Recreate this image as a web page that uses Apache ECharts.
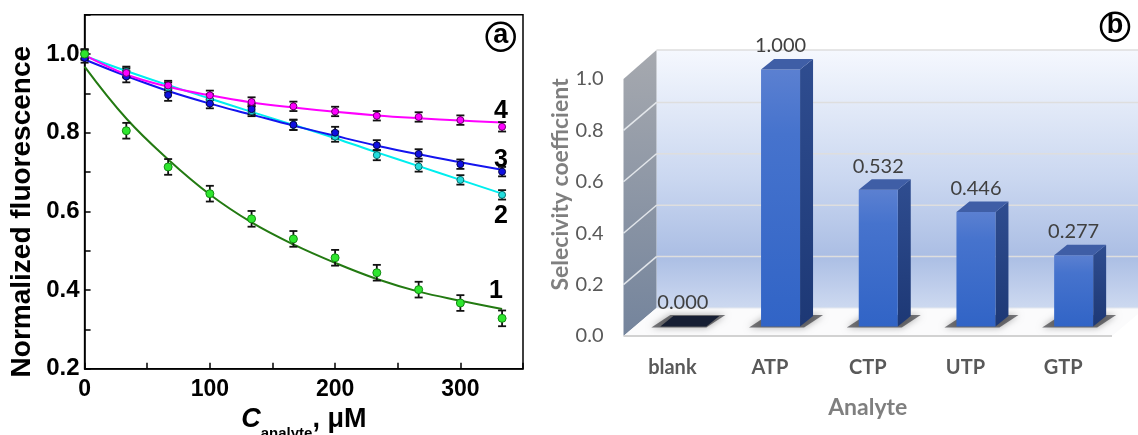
<!DOCTYPE html>
<html><head><meta charset="utf-8">
<script src="https://cdn.jsdelivr.net/npm/echarts@6/dist/echarts.min.js"></script>
<style>html,body{margin:0;padding:0;background:#fff}#c{width:1138px;height:435px}</style>
</head><body><div id="c"></div>
<script>
// ---------- Panel a data ----------
const concentrations = [0, 33.3, 66.7, 100, 133.3, 166.7, 200, 233.3, 266.7, 300, 333.3];
const curve1Points = [1.000, 0.805, 0.713, 0.645, 0.581, 0.530, 0.482, 0.444, 0.401, 0.367, 0.328];
const curve1Fit    = [0.968, 0.836, 0.732, 0.643, 0.572, 0.516, 0.469, 0.428, 0.396, 0.373, 0.352];
const curve1Err    = [0.012, 0.020, 0.020, 0.020, 0.020, 0.020, 0.020, 0.020, 0.020, 0.020, 0.020];
const curve2Points = [0.997, 0.955, 0.915, 0.885, 0.855, 0.820, 0.790, 0.743, 0.714, 0.680, 0.642];
const curve2Fit    = [0.995, 0.957, 0.921, 0.887, 0.853, 0.820, 0.786, 0.750, 0.715, 0.680, 0.645];
const curve2Err    = [0.012, 0.013, 0.013, 0.013, 0.013, 0.013, 0.013, 0.013, 0.013, 0.012, 0.012];
const curve3Points = [0.990, 0.943, 0.896, 0.874, 0.860, 0.820, 0.800, 0.768, 0.746, 0.720, 0.701];
const curve3Fit    = [0.986, 0.944, 0.906, 0.874, 0.846, 0.818, 0.792, 0.767, 0.745, 0.725, 0.706];
const curve3Err    = [0.012, 0.015, 0.015, 0.012, 0.013, 0.013, 0.015, 0.013, 0.012, 0.012, 0.012];
const curve4Points = [1.000, 0.952, 0.920, 0.895, 0.878, 0.867, 0.854, 0.843, 0.840, 0.832, 0.815];
const curve4Fit    = [0.997, 0.948, 0.917, 0.895, 0.877, 0.864, 0.853, 0.844, 0.837, 0.831, 0.826];
const curve4Err    = [0.012, 0.012, 0.012, 0.012, 0.012, 0.012, 0.012, 0.012, 0.012, 0.012, 0.012];
const curveNames = ['1', '2', '3', '4'];

// ---------- Panel b data ----------
const analytes = ['blank', 'ATP', 'CTP', 'UTP', 'GTP'];
const selectivity = [0.000, 1.000, 0.532, 0.446, 0.277];

const chart = echarts.init(document.getElementById('c'));

const pts = ys => concentrations.map((x, i) => [x, ys[i]]);

function errSeries(ys, errs) {
  return {
    type: 'custom', xAxisIndex: 0, yAxisIndex: 0, z: 3, silent: true,
    data: concentrations.map((x, i) => [x, ys[i], errs[i]]),
    renderItem(params, api) {
      const x = api.value(0), y = api.value(1), e = api.value(2);
      const lo = api.coord([x, y - e]), hi = api.coord([x, y + e]);
      const cw = 4;
      const st = { stroke: '#111', lineWidth: 1.8 };
      return { type: 'group', children: [
        { type: 'line', shape: { x1: lo[0], y1: lo[1], x2: hi[0], y2: hi[1] }, style: st },
        { type: 'line', shape: { x1: lo[0] - cw, y1: lo[1], x2: lo[0] + cw, y2: lo[1] }, style: st },
        { type: 'line', shape: { x1: hi[0] - cw, y1: hi[1], x2: hi[0] + cw, y2: hi[1] }, style: st }
      ]};
    }
  };
}
function fitSeries(name, ys, color) {
  return { type: 'line', name, xAxisIndex: 0, yAxisIndex: 0, data: pts(ys), smooth: 0.4,
    showSymbol: false, z: 2, lineStyle: { color, width: 2 } };
}
function pointSeries(name, ys, color, border, size) {
  return { type: 'scatter', name, xAxisIndex: 0, yAxisIndex: 0, data: pts(ys), z: 4,
    symbolSize: size, itemStyle: { color, borderColor: border, borderWidth: 1, opacity: 1 } };
}

// ---------- Panel b custom renderers ----------
const DEPTH = [33, -28];      // back wall offset
const BAR_SHIFT = [10.5, -9.5]; // bar front plane offset
const BAR_DEPTH = [13, -10.5];
const BAR_W = 39;

function renderRoom(params, api) {
  const cs = params.coordSys;
  const x0 = cs.x, x1 = cs.x + cs.width;
  const yAt = v => api.coord([0, v])[1];
  const y0 = yAt(0), yTop = yAt(1);
  const [dx, dy] = DEPTH;
  const ch = [];
  ch.push({ type: 'polygon', shape: { points: [[x0 + dx, yTop + dy - 1], [x1 + 80, yTop + dy - 1], [x1 + 80, y0 + dy], [x0 + dx, y0 + dy]] },
    style: { fill: { type: 'linear', x: 0, y: 0, x2: 0, y2: 1, colorStops: [
      { offset: 0, color: '#f5f8fe' }, { offset: 0.5, color: '#cad7f0' },
      { offset: 0.8, color: '#abbee4' }, { offset: 1, color: '#cdd9f0' }] } } });
  ch.push({ type: 'polygon', shape: { points: [[x0, yTop], [x0 + dx, yTop + dy - 1], [x0 + dx, y0 + dy], [x0, y0]] },
    style: { fill: { type: 'linear', x: 0, y: 0, x2: 0, y2: 1, colorStops: [
      { offset: 0, color: '#a6a9af' }, { offset: 1, color: '#74849c' }] } } });
  ch.push({ type: 'polygon', shape: { points: [[x0, y0], [x1, y0], [x1 + dx, y0 + dy], [x0 + dx, y0 + dy]] },
    style: { fill: '#fbfbfc' } });
  for (let k = 1; k <= 5; k++) {
    const v = k * 0.2, y = yAt(v);
    ch.push({ type: 'line', shape: { x1: x0 + dx, y1: y + dy - (k === 5 ? 1 : 0), x2: x1 + 80, y2: y + dy - (k === 5 ? 1 : 0) },
      style: { stroke: '#dedede', lineWidth: 1.5 } });
    if (k < 5) ch.push({ type: 'line', shape: { x1: x0, y1: y, x2: x0 + dx, y2: y + dy },
      style: { stroke: 'rgba(235,238,242,0.9)', lineWidth: 1.5 } });
  }
  ch.push({ type: 'line', shape: { x1: x0 + dx, y1: y0 + dy, x2: x1 + 80, y2: y0 + dy }, style: { stroke: '#e4e8ef', lineWidth: 1 } });
  ch.push({ type: 'line', shape: { x1: x0, y1: y0, x2: x1, y2: y0 }, style: { stroke: '#d2d2d2', lineWidth: 2 } });
  return { type: 'group', children: ch };
}

function renderBar(params, api) {
  const i = api.value(0), v = api.value(1);
  const base = api.coord([i, 0]), top = api.coord([i, v]);
  const cx = base[0] + BAR_SHIFT[0];
  const by = base[1] + BAR_SHIFT[1];
  const ty = top[1] + BAR_SHIFT[1];
  const l = cx - BAR_W / 2, r = cx + BAR_W / 2;
  const [ddx, ddy] = BAR_DEPTH;
  const ch = [];
  ch.push({ type: 'polygon', shape: { points: [[l - 12, by + 1], [r + 4, by + 1], [r + ddx + 10, by + ddy - 1], [l + ddx - 6, by + ddy - 1]] },
    style: { fill: 'rgba(20,20,25,0.55)', shadowBlur: 7, shadowColor: 'rgba(0,0,0,0.6)' } });
  if (v > 0) {
    ch.push({ type: 'polygon', shape: { points: [[r, ty], [r + ddx, ty + ddy], [r + ddx, by + ddy], [r, by]] },
      style: { fill: { type: 'linear', x: 0, y: 0, x2: 0, y2: 1, colorStops: [
        { offset: 0, color: '#2f4d90' }, { offset: 1, color: '#1d3875' }] } } });
    ch.push({ type: 'rect', shape: { x: l, y: ty, width: BAR_W, height: by - ty },
      style: { fill: { type: 'linear', x: 0, y: 0, x2: 0, y2: 1, colorStops: [
        { offset: 0, color: '#5b80d1' }, { offset: 0.25, color: '#4673cd' }, { offset: 1, color: '#3164c6' }] } } });
    ch.push({ type: 'polygon', shape: { points: [[l, ty], [r, ty], [r + ddx, ty + ddy], [l + ddx, ty + ddy]] },
      style: { fill: '#3f5ea6' } });
  } else {
    ch.push({ type: 'polygon', shape: { points: [[l - 3, ty], [r + 4, ty], [r + ddx + 4, ty + ddy], [l + ddx - 3, ty + ddy]] },
      style: { fill: '#161e33' } });
  }
  ch.push({ type: 'text', style: { text: v.toFixed(3), x: cx, y: ty + ddy - 13, align: 'center', verticalAlign: 'middle',
    fill: '#404040', font: '20px Lato, "Open Sans", sans-serif' } });
  return { type: 'group', children: ch };
}

const boldA = '"Liberation Sans", Arial, sans-serif';
const lato = 'Lato, "Open Sans", sans-serif';

const option = {
  animation: false,
  backgroundColor: '#ffffff',
  grid: [
    { left: 84.6, top: 14.7, width: 438.4, height: 354, show: true, borderColor: '#000', borderWidth: 1.5,
      backgroundColor: 'transparent', outerBoundsMode: 'none', containLabel: false },
    { left: 623.5, top: 79, right: 26, bottom: 99, outerBoundsMode: 'none', containLabel: false }
  ],
  xAxis: [
    { gridIndex: 0, type: 'value', min: 0, max: 350, interval: 100,
      axisLine: { lineStyle: { color: '#000', width: 1.5 } },
      axisTick: { inside: true, length: 6, lineStyle: { color: '#000', width: 1.5 } },
      minorTick: { show: true, splitNumber: 2, length: 6, lineStyle: { color: '#000', width: 1.5 } },
      splitLine: { show: false },
      axisLabel: { showMaxLabel: false, color: '#000', fontFamily: boldA, fontWeight: 'bold', fontSize: 23, margin: 9 },
      name: '{c|C}{s|analyte}{n|, μM}', nameLocation: 'middle', nameGap: 37,
      nameTextStyle: { rich: {
        c: { fontFamily: boldA, fontWeight: 'bold', fontStyle: 'italic', fontSize: 27, color: '#000', lineHeight: 36, verticalAlign: 'top' },
        s: { fontFamily: boldA, fontWeight: 'bold', fontSize: 15, color: '#000', lineHeight: 15, verticalAlign: 'bottom' },
        n: { fontFamily: boldA, fontWeight: 'bold', fontSize: 27, color: '#000', lineHeight: 36, verticalAlign: 'top' }
      } } },
    { gridIndex: 1, type: 'category', data: analytes,
      axisLine: { show: false }, axisTick: { show: false }, splitLine: { show: false },
      axisLabel: { color: '#595959', fontFamily: lato, fontWeight: 'bold', fontSize: 20, margin: 22 },
      name: 'Analyte', nameLocation: 'middle', nameGap: 60,
      nameTextStyle: { color: '#7f7f7f', fontFamily: lato, fontWeight: 'bold', fontSize: 23 } }
  ],
  yAxis: [
    { gridIndex: 0, type: 'value', min: 0.2, max: 1.1, interval: 0.2,
      axisLine: { lineStyle: { color: '#000', width: 1.5 } },
      axisTick: { inside: true, length: 6, lineStyle: { color: '#000', width: 1.5 } },
      minorTick: { show: true, splitNumber: 2, length: 6, lineStyle: { color: '#000', width: 1.5 } },
      splitLine: { show: false },
      axisLabel: { showMaxLabel: false, formatter: v => v.toFixed(1), color: '#000', fontFamily: boldA, fontWeight: 'bold', fontSize: 24, margin: 5 },
      name: 'Normalized fluorescence', nameLocation: 'middle', nameGap: 48,
      nameTextStyle: { color: '#000', fontFamily: boldA, fontWeight: 'bold', fontSize: 28, padding: [0, 40, 0, 0] } },
    { gridIndex: 1, type: 'value', min: 0, max: 1, interval: 0.2,
      axisLine: { show: false }, axisTick: { show: false }, splitLine: { show: false },
      axisLabel: { formatter: v => v.toFixed(1), color: '#595959', fontFamily: lato, fontSize: 20, margin: 20 },
      name: 'Selecivity coefficient', nameLocation: 'middle', nameGap: 42,
      nameTextStyle: { color: '#7f7f7f', fontFamily: lato, fontWeight: 'bold', fontSize: 23, padding: [0, 0, 0, 46] } }
  ],
  series: [
    fitSeries(curveNames[0], curve1Fit, '#237a12'),
    fitSeries(curveNames[1], curve2Fit, '#00eeee'),
    fitSeries(curveNames[2], curve3Fit, '#1414ee'),
    fitSeries(curveNames[3], curve4Fit, '#ff00ff'),
    errSeries(curve1Points, curve1Err),
    errSeries(curve2Points, curve2Err),
    errSeries(curve3Points, curve3Err),
    errSeries(curve4Points, curve4Err),
    pointSeries(curveNames[1], curve2Points, '#22dddd', '#0a6f6f', 7),
    pointSeries(curveNames[2], curve3Points, '#1010e0', '#06064a', 7),
    pointSeries(curveNames[3], curve4Points, '#ff00ff', '#6a006a', 7),
    pointSeries(curveNames[0], curve1Points, '#2ee62e', '#138a13', 8),
    { type: 'custom', xAxisIndex: 1, yAxisIndex: 1, z: 0, silent: true, clip: false,
      data: [[0, 0]], renderItem: renderRoom },
    { type: 'custom', xAxisIndex: 1, yAxisIndex: 1, z: 2, silent: true, clip: false,
      data: selectivity.map((v, i) => [i, v]), renderItem: renderBar }
  ],
  graphic: [
    { type: 'text', left: 494, top: 99, style: { text: '4', font: 'bold 25px ' + boldA, fill: '#000' } },
    { type: 'text', left: 494, top: 148, style: { text: '3', font: 'bold 25px ' + boldA, fill: '#000' } },
    { type: 'text', left: 494, top: 204, style: { text: '2', font: 'bold 25px ' + boldA, fill: '#000' } },
    { type: 'text', left: 489, top: 279, style: { text: '1', font: 'bold 25px ' + boldA, fill: '#000' } },
    { type: 'circle', shape: { cx: 500.7, cy: 36.7, r: 14 }, style: { fill: '#fff', stroke: '#000', lineWidth: 2.5 } },
    { type: 'text', x: 500.7, y: 35.5, style: { text: 'a', font: 'bold 27px ' + boldA, fill: '#000', align: 'center', verticalAlign: 'middle' } },
    { type: 'circle', shape: { cx: 1115, cy: 26.7, r: 14 }, style: { fill: '#fff', stroke: '#000', lineWidth: 2.5 } },
    { type: 'text', x: 1115, y: 25.5, style: { text: 'b', font: 'bold 27px ' + boldA, fill: '#000', align: 'center', verticalAlign: 'middle' } }
  ]
};
chart.setOption(option);
</script>
</body></html>
